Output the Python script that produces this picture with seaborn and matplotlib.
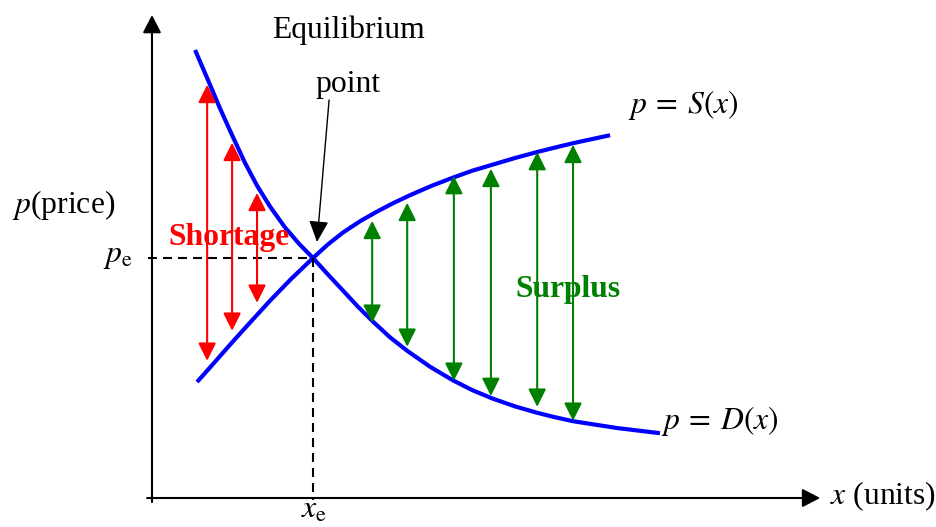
import matplotlib
matplotlib.use("Agg")
import matplotlib.pyplot as plt
import seaborn as sns
import pandas as pd

# demand curve p = D(x)
demand_x = [1.07, 1.37, 1.69, 1.99, 2.31, 2.61, 2.93, 3.30, 3.65, 4.0, 4.37, 4.75, 5.12,
            5.47, 5.91, 6.34, 6.91, 7.48, 7.95, 8.45, 9.02, 9.57, 10.01, 10.46, 11.55, 12.62]
demand_p = [11.2, 10.5, 9.74, 9.07, 8.38, 7.81, 7.29, 6.77, 6.36, 6.0, 5.59, 5.18, 4.78,
            4.43, 4.02, 3.68, 3.28, 2.94, 2.70, 2.49, 2.29, 2.13, 2.02, 1.92, 1.75, 1.62]

# supply curve p = S(x)
supply_x = [1.12, 1.57, 1.99, 2.44, 2.93, 3.43, 4.0, 4.37, 4.75, 5.17, 5.59, 5.99, 6.41,
            6.96, 7.48, 7.95, 8.45, 9.02, 9.57, 10.01, 10.46, 11.38]
supply_p = [2.9, 3.41, 3.89, 4.39, 4.93, 5.45, 6.0, 6.34, 6.64, 6.92, 7.16, 7.37, 7.57,
            7.81, 8.01, 8.18, 8.33, 8.50, 8.65, 8.76, 8.87, 9.07]

# equilibrium
x_e, p_e = 4.0, 6.0

# shortage arrows (left of equilibrium)
shortage_x = [1.37, 1.99, 2.61]
shortage_top = [10.33, 8.88, 7.63]
shortage_bottom = [3.43, 4.18, 4.88]

# surplus arrows (right of equilibrium)
surplus_x = [5.47, 6.34, 7.50, 8.42, 9.57, 10.46]
surplus_top = [6.93, 7.38, 8.05, 8.23, 8.65, 8.83]
surplus_bottom = [4.38, 3.78, 2.93, 2.55, 2.28, 1.93]

df = pd.DataFrame({
    "x": demand_x + supply_x,
    "p": demand_p + supply_p,
    "curve": ["D"] * len(demand_x) + ["S"] * len(supply_x),
})

sns.set_theme(style="white")
plt.rcParams["font.family"] = ["Liberation Serif", "DejaVu Serif"]
plt.rcParams["mathtext.fontset"] = "stix"
plt.rcParams["text.color"] = "black"

fig = plt.figure(figsize=(9.36, 5.27), dpi=100)
ax = fig.add_axes([0, 0, 1, 1])
ax.axis("off")
ax.set_xlim(-3.776, 19.478)
ax.set_ylim(-0.725, 12.45)

sns.lineplot(data=df, x="x", y="p", hue="curve", palette={"D": "blue", "S": "blue"},
             estimator=None, sort=False, lw=3, legend=False, ax=ax,
             solid_capstyle="butt", solid_joinstyle="round")

# axes with arrow heads
axis_style = "-|>,head_length=1.08,head_width=0.56"
ax.annotate("", xy=(0, 12.075), xytext=(0, -0.1),
            arrowprops=dict(arrowstyle=axis_style, color="black", lw=1.5,
                            shrinkA=0, shrinkB=0, mutation_scale=10))
ax.annotate("", xy=(16.6, 0), xytext=(-0.12, 0),
            arrowprops=dict(arrowstyle=axis_style, color="black", lw=1.5,
                            shrinkA=0, shrinkB=0, mutation_scale=10))

# dashed guides to the equilibrium
ax.plot([-0.1, x_e], [p_e, p_e], color="black", lw=1.5, ls=(0, (4.3, 2.9)))
ax.plot([x_e, x_e], [p_e, -0.05], color="black", lw=1.5, ls=(0, (4.3, 2.9)))

dbl = "<|-|>,head_length=1.08,head_width=0.54"
for x, top, bot in zip(shortage_x, shortage_top, shortage_bottom):
    ax.annotate("", xy=(x, top), xytext=(x, bot),
                arrowprops=dict(arrowstyle=dbl, color="red", lw=1.5,
                                shrinkA=0, shrinkB=0, mutation_scale=10))
for x, top, bot in zip(surplus_x, surplus_top, surplus_bottom):
    ax.annotate("", xy=(x, top), xytext=(x, bot),
                arrowprops=dict(arrowstyle=dbl, color="green", lw=1.5,
                                shrinkA=0, shrinkB=0, mutation_scale=10))

# pointer to equilibrium point
ax.annotate("", xy=(4.10, 6.4), xytext=(4.40, 9.95),
            arrowprops=dict(arrowstyle="-|>,head_length=1.3,head_width=0.6", color="black",
                            lw=1.0, shrinkA=0, shrinkB=0, mutation_scale=10))

fs = 22.8
ax.text(4.87, 11.5, "Equilibrium", fontsize=fs, ha="center", va="baseline")
ax.text(4.87, 10.15, "point", fontsize=fs, ha="center", va="baseline")
ax.text(1.91, 6.33, "Shortage", fontsize=fs, ha="center", va="baseline",
        color="red", fontweight="bold")
ax.text(10.34, 5.03, "Surplus", fontsize=fs, ha="center", va="baseline",
        color="green", fontweight="bold")
ax.text(11.83, 9.63, r"$p\:=\:S(x)$", fontsize=fs, ha="left", va="baseline")
ax.text(12.65, 1.73, r"$p\:=\:D(x)$", fontsize=fs, ha="left", va="baseline")
ax.text(16.85, -0.15, r"$x$ (units)", fontsize=fs, ha="left", va="baseline")
ax.text(-3.48, 7.13, r"$p$(price)", fontsize=fs, ha="left", va="baseline")
ax.text(-0.47, 5.9, r"$p_{\mathrm{e}}$", fontsize=fs, ha="right", va="baseline")
ax.text(4.03, -0.5, r"$x_{\mathrm{e}}$", fontsize=fs, ha="center", va="baseline")

fig.savefig("out.png", dpi=100)
